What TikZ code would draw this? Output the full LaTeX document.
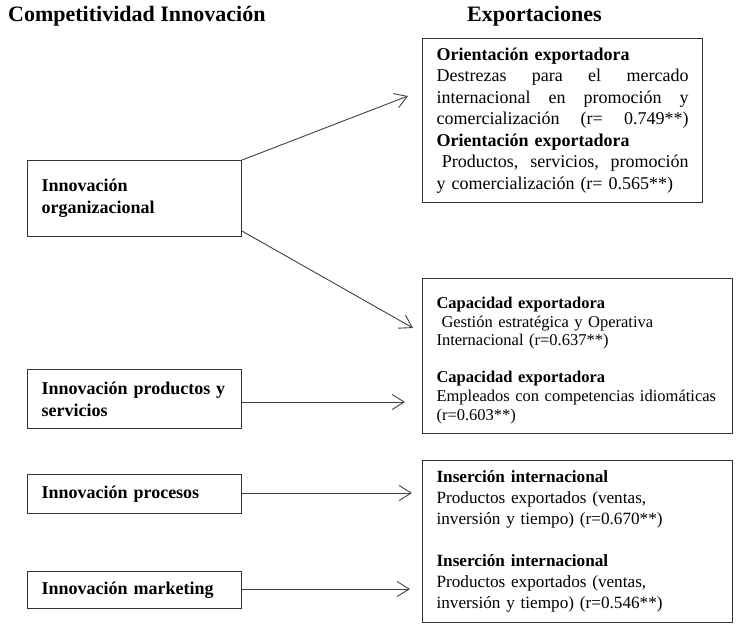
\documentclass[tikz,border=0pt]{standalone}
\usepackage{fontspec}
\setmainfont{Liberation Serif}
\usetikzlibrary{arrows.meta,positioning}
\newcommand{\fillline}[1]{\leavevmode\hbox to 252pt{#1}}

\begin{document}
\begin{tikzpicture}[
  x=1pt,y=-1pt,
  head/.style={anchor=base west,inner sep=0pt,font=\bfseries\fontsize{22}{26}\selectfont},
  box/.style={draw=black!80,line width=1.1pt,anchor=north west,inner xsep=14pt,inner ysep=0pt,align=left},
  innov/.style={box,text width=186pt,minimum height=#1,font=\bfseries\fontsize{18}{22}\selectfont},
  innov/.default=40pt,
  result/.style={box,text width=282pt,minimum height=#1},
  result/.default=150pt,
  arr/.style={draw=black!75,line width=0.9pt,-{Straight Barb[length=12pt,width=15pt,line width=0.9pt]}}
]
\useasboundingbox (0,0) rectangle (742,628);
\node[head] (comp) at (8,22) {Competitividad Innovación};
\node[head] (expo) at (467,22) {Exportaciones};
% left column
\node[innov=76pt] (org) at (27,160) {Innovación\\organizacional};
\node[innov=59pt,below=132pt of org] (prod) {Innovación productos y\\servicios};
\node[innov=39pt,below=45pt of prod] (proc) {Innovación procesos};
\node[innov=37pt,below=57pt of proc] (mkt) {Innovación marketing};
% right column
\node[result=164pt,text width=252pt,font=\fontsize{18}{21.5}\selectfont] (orient) at (422,38)
  {\textbf{Orientación exportadora}\\
   \fillline{Destrezas\hfill para\hfill el\hfill mercado}\\
   \fillline{internacional\hfill en\hfill promoción\hfill y}\\
   \fillline{comercialización\hfill (r=\hfill 0.749**)}\\
   \textbf{Orientación exportadora}\\
   \fillline{\hspace*{.3em}Productos,\hfill servicios,\hfill promoción}\\
   y comercialización (r= 0.565**)};
\node[result=155pt,font=\fontsize{16.5}{18.6}\selectfont] (cap) at (422,278)
  {\rule{0pt}{20pt}\textbf{Capacidad exportadora}\\
   \hspace*{.3em}Gestión estratégica y Operativa\\
   Internacional (r=0.637**)\\[18.6pt]
   \textbf{Capacidad exportadora}\\
   Empleados con competencias idiomáticas\\
   (r=0.603**)};
\node[result=162pt,font=\fontsize{17.2}{21}\selectfont] (ins) at (422,460)
  {\textbf{Inserción internacional}\\
   Productos exportados (ventas,\\
   inversión y tiempo) (r=0.670**)\\[21pt]
   \textbf{Inserción internacional}\\
   Productos exportados (ventas,\\
   inversión y tiempo) (r=0.546**)};
% arrow ends
\coordinate (e1) at (408,96);
\coordinate (e2) at (413,328);
\coordinate (e3) at (405,402);
\coordinate (e4) at (412,493);
\coordinate (e5) at (410,589);
\draw[arr] (org.north east) -- (e1);
\draw[arr] ([yshift=6pt]org.south east) -- (e2);
\draw[arr] (prod.east |- e3) -- (e3);
\draw[arr] (proc.east |- e4) -- (e4);
\draw[arr] (mkt.east |- e5) -- (e5);
\end{tikzpicture}
\end{document}
